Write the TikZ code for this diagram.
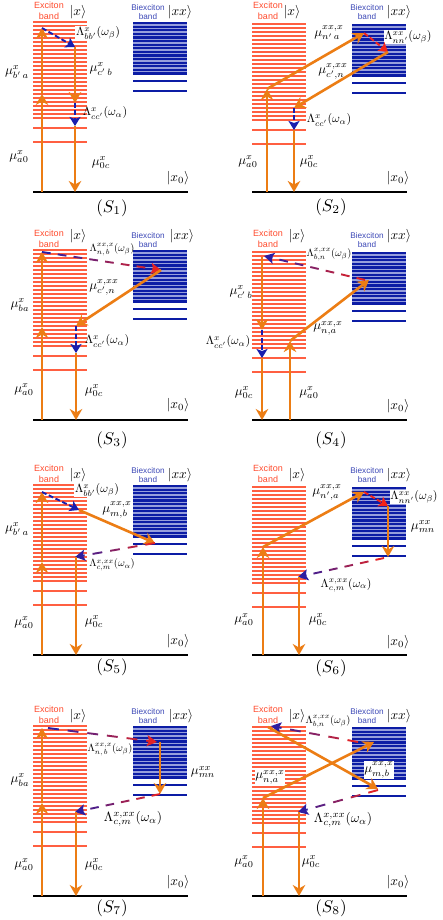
\documentclass[tikz,border=0pt]{standalone}
\usepackage{fontspec}
\newfontfamily\labfont{Liberation Sans}
\usetikzlibrary{arrows.meta,calc}
\definecolor{exred}{RGB}{255,95,65}
\definecolor{exhd}{RGB}{255,75,45}
\definecolor{bxblue}{RGB}{12,28,165}
\definecolor{bxpale}{RGB}{150,158,220}
\definecolor{dblue}{RGB}{25,30,175}
\definecolor{dred}{RGB}{245,35,25}
\definecolor{arrorange}{RGB}{236,125,20}
\tikzset{
  groundline/.style={draw=black,line width=1.8pt},
  trans/.style={draw=arrorange,line width=2.6pt,-{Stealth[length=11pt,width=12.5pt,inset=3.5pt]}},
  blued/.style={draw=dblue,line width=1.9pt,dash pattern=on 5pt off 2.5pt,-{Stealth[length=9pt,width=11pt,inset=2pt]}},
  redd/.style={draw=dred,line width=1.9pt,dash pattern=on 5pt off 2.5pt,-{Stealth[length=9pt,width=11pt,inset=2pt]}},
  exhead/.style={text=exhd,font=\labfont\fontsize{9}{10}\selectfont,inner sep=0pt},
  bxhead/.style={text=bxblue!80!white,font=\labfont\fontsize{8.2}{9}\selectfont,inner sep=0pt},
  ket/.style={scale=1.35,inner sep=0pt},
  caption/.style={scale=1.7,inner sep=0pt},
  mulab/.style={scale=1.3,inner sep=0.5pt},
  lamlab/.style={scale=1.2,inner sep=0.5pt},
  lamx/.style={scale=1.05,inner sep=0.5pt},
  biglam/.style={scale=1.35,inner sep=0.5pt},
  wfill/.style={fill=white},
}
% panel: prefix, dx, top, base, head offset
\newcommand{\panel}[5]{%
  \foreach \k in {0,...,24}{\fill[exred] ({33+#2},{#3+\k*4-0.55}) rectangle ({87+#2},{#3+\k*4+0.55});}
  \fill[exred] ({33+#2},{#3+105.45}) rectangle ({87+#2},{#3+106.55});
  \fill[exred] ({33+#2},{#3+119.45}) rectangle ({87+#2},{#3+120.55});
  \fill[bxpale] ({133+#2},{#3}) rectangle ({187+#2},{#3+52.5});
  \foreach \k in {0,...,14}{\fill[bxblue] ({133+#2},{#3+\k*3.6}) rectangle ({187+#2},{#3+\k*3.6+2.2});}
  \fill[bxblue] ({133+#2},{#3+58}) rectangle ({187+#2},{#3+60});
  \fill[bxblue] ({133+#2},{#3+68}) rectangle ({187+#2},{#3+70});
  \coordinate (#1bl) at ({33+#2},#4);
  \coordinate (#1br) at ({187.5+#2},#4);
  \draw[groundline] (#1bl) -- (#1br);
  \node[exhead] (#1exa) at ({49+#2},{#5+5}) {Exciton};
  \node[exhead] (#1exb) at ({49+#2},{#5+16}) {band};
  \node[bxhead] (#1bxa) at ({148+#2},{#5+7.5}) {Biexciton};
  \node[bxhead] (#1bxb) at ({148+#2},{#5+17}) {band};
}
% gradient dashed connector: a, b, dashes, start colour, end colour
\newcommand{\gradash}[5]{%
  \foreach \i in {1,...,#3}{%
    \pgfmathsetmacro\ta{(\i-1)/(#3-0.45)}%
    \pgfmathsetmacro\tb{(\i-0.45)/(#3-0.45)}%
    \pgfmathtruncatemacro\pc{100*(\i-0.5)/#3}%
    \ifnum\i=#3\relax
      \draw[color={#5!\pc!#4},line width=1.9pt,-{Stealth[length=10pt,width=11pt,inset=2pt]}] ($(#1)!\ta!(#2)$) -- (#2);
    \else
      \draw[color={#5!\pc!#4},line width=1.9pt] ($(#1)!\ta!(#2)$) -- ($(#1)!\tb!(#2)$);
    \fi
  }%
}
\begin{document}
\begin{tikzpicture}[x=1pt,y=-1pt]
\useasboundingbox (0,0) rectangle (442,920);
\fill[white] (0,0) rectangle (442,920);

% ---------------- S1
\panel{a}{0}{22}{192}{0}
\node[ket] (aket1) at (78,12) {$|x\rangle$};
\node[ket] (aket2) at (180,12) {$|xx\rangle$};
\node[ket] (aket0) at (178,178) {$|x_0\rangle$};
\node[caption] (acap) at (112,208) {$(S_1)$};
\node[lamlab,wfill] (alb) at (98,33) {$\Lambda^{x}_{bb'}(\omega_\beta)$};
\node[lamlab] (alc) at (105,113) {$\Lambda^{x}_{cc'}(\omega_\alpha)$};
\node[mulab] (am1) at (17,72) {$\mu^{x}_{b'\,a}$};
\node[mulab] (am2) at (101,69) {$\mu^{x}_{c'\,b}$};
\node[mulab] (am3) at (19,157) {$\mu^{x}_{a0}$};
\node[mulab] (am4) at (101,163) {$\mu^{x}_{0c}$};
\coordinate (a0) at (42,192); \coordinate (a1) at (42,94); \coordinate (a2) at (42,28);
\coordinate (a3) at (75,47); \coordinate (a4) at (75,103); \coordinate (a5) at (75,126); \coordinate (a6) at (75,192);
\draw[trans] (a0) -- (a1); \draw[trans] (a1) -- (a2);
\draw[blued] (a2) -- (a3);
\draw[trans] (a3) -- (a4);
\draw[blued] (a4) -- (a5);
\draw[trans] (a5) -- (a6);

% ---------------- S2
\panel{b}{219}{24}{192}{0}
\node[ket] (bket1) at (292,12) {$|x\rangle$};
\node[ket] (bket2) at (399,12) {$|xx\rangle$};
\node[ket] (bket0) at (398,178) {$|x_0\rangle$};
\node[caption] (bcap) at (331,207) {$(S_2)$};
\node[lamlab,wfill] (blb) at (408,37) {$\Lambda^{xx}_{nn'}(\omega_\beta)$};
\node[lamlab] (blc) at (329,120) {$\Lambda^{x}_{cc'}(\omega_\alpha)$};
\node[mulab] (bm1) at (329,33) {$\mu^{xx,x}_{n'\,a}$};
\node[mulab] (bm2) at (333,71) {$\mu^{x,xx}_{c',n}$};
\node[mulab] (bm3) at (248,162) {$\mu^{x}_{a0}$};
\node[mulab] (bm4) at (309,162) {$\mu^{x}_{0c}$};
\coordinate (b0) at (267,192); \coordinate (b1) at (267,89); \coordinate (b2) at (364,33);
\coordinate (b3) at (388,52); \coordinate (b4) at (294,108); \coordinate (b5) at (294,130); \coordinate (b6) at (294,192);
\draw[trans] (b0) -- (b1); \draw[trans] (b1) -- (b2);
\draw[redd] (b2) -- (b3);
\draw[trans] (b3) -- (b4);
\draw[blued] (b4) -- (b5);
\draw[trans] (b5) -- (b6);

% ---------------- S3
\panel{c}{0}{250}{420}{228}
\node[ket] (cket1) at (78,236) {$|x\rangle$};
\node[ket] (cket2) at (182,236) {$|xx\rangle$};
\node[ket] (cket0) at (178,405) {$|x_0\rangle$};
\node[caption] (ccap) at (112,440) {$(S_3)$};
\node[lamx] (clb) at (112,250) {$\Lambda^{xx,x}_{n,\,b}(\omega_\beta)$};
\node[lamlab] (clc) at (107,341) {$\Lambda^{x}_{cc'}(\omega_\alpha)$};
\node[mulab] (cm1) at (20,305) {$\mu^{x}_{ba}$};
\node[mulab] (cm2) at (104,287) {$\mu^{x,xx}_{c',n}$};
\node[mulab] (cm3) at (24,390) {$\mu^{x}_{a0}$};
\node[mulab] (cm4) at (94,391) {$\mu^{x}_{0c}$};
\coordinate (c0) at (42,420); \coordinate (c1) at (42,327); \coordinate (c2) at (42,252);
\coordinate (c3) at (161,270); \coordinate (c4) at (76,326); \coordinate (c5) at (76,353); \coordinate (c6) at (76,420);
\draw[trans] (c0) -- (c1); \draw[trans] (c1) -- (c2);
\gradash{c2}{c3}{8}{dblue}{dred}
\draw[trans] (c3) -- (c4);
\draw[blued] (c4) -- (c5);
\draw[trans] (c5) -- (c6);

% ---------------- S4
\panel{d}{219}{252}{420}{228}
\node[ket] (dket1) at (297,236) {$|x\rangle$};
\node[ket] (dket2) at (399,236) {$|xx\rangle$};
\node[ket] (dket0) at (398,406) {$|x_0\rangle$};
\node[caption] (dcap) at (331,440) {$(S_4)$};
\node[lamx] (dlb) at (329,255) {$\Lambda^{x,xx}_{b,n}(\omega_\beta)$};
\node[lamlab] (dlc) at (228,342) {$\Lambda^{x}_{cc'}(\omega_\alpha)$};
\node[mulab] (dm1) at (241,292) {$\mu^{x}_{c'\,b}$};
\node[mulab] (dm2) at (328,328) {$\mu^{xx,x}_{n,a}$};
\node[mulab] (dm3) at (244,393) {$\mu^{x}_{0c}$};
\node[mulab] (dm4) at (309,393) {$\mu^{x}_{a0}$};
\coordinate (d0) at (290,420); \coordinate (d1) at (290,341); \coordinate (d2) at (369,280);
\coordinate (d3) at (365,280); \coordinate (d4) at (264,256);
\coordinate (d5) at (262,257); \coordinate (d6) at (262,330); \coordinate (d7) at (262,358); \coordinate (d8) at (262,420);
\draw[trans] (d0) -- (d1); \draw[trans] (d1) -- (d2);
\gradash{d3}{d4}{7}{dred}{dblue}
\draw[trans] (d5) -- (d6);
\draw[blued] (d6) -- (d7);
\draw[trans] (d7) -- (d8);

% ---------------- S5
\panel{e}{0}{485}{655}{463}
\node[ket] (eket1) at (78,475) {$|x\rangle$};
\node[ket] (eket2) at (180,475) {$|xx\rangle$};
\node[ket] (eket0) at (178,641) {$|x_0\rangle$};
\node[caption] (ecap) at (112,667) {$(S_5)$};
\node[lamlab,wfill] (elb) at (97,490) {$\Lambda^{x}_{bb'}(\omega_\beta)$};
\node[lamx] (elc) at (112,565) {$\Lambda^{x,xx}_{c,m}(\omega_\alpha)$};
\node[mulab] (em1) at (17,529) {$\mu^{x}_{b'\,a}$};
\node[mulab] (em2) at (117,510) {$\mu^{xx,x}_{m,b}$};
\node[mulab] (em3) at (24,623) {$\mu^{x}_{a0}$};
\node[mulab] (em4) at (94,622) {$\mu^{x}_{0c}$};
\coordinate (e0) at (42,655); \coordinate (e1) at (42,562); \coordinate (e2) at (42,492);
\coordinate (e3) at (79,510); \coordinate (e4) at (155,543); \coordinate (e5) at (75,557);
\coordinate (e6) at (76,557); \coordinate (e7) at (76,655);
\draw[trans] (e0) -- (e1); \draw[trans] (e1) -- (e2);
\draw[blued] (e2) -- (e3);
\draw[trans] (e3) -- (e4);
\gradash{e4}{e5}{5}{dred}{dblue}
\draw[trans] (e6) -- (e7);

% ---------------- S6
\panel{f}{219}{487}{655}{463}
\node[ket] (fket1) at (297,475) {$|x\rangle$};
\node[ket] (fket2) at (399,475) {$|xx\rangle$};
\node[ket] (fket0) at (398,642) {$|x_0\rangle$};
\node[caption] (fcap) at (331,668) {$(S_6)$};
\node[lamlab,wfill] (flb) at (414,497) {$\Lambda^{xx}_{nn'}(\omega_\beta)$};
\node[lamx,scale=1.12] (flc) at (346,585) {$\Lambda^{x,xx}_{c,m}(\omega_\alpha)$};
\node[mulab] (fm1) at (327,492) {$\mu^{xx,x}_{n',a}$};
\node[mulab] (fm2) at (423,527) {$\mu^{xx}_{mn}$};
\node[mulab] (fm3) at (244,620) {$\mu^{x}_{a0}$};
\node[mulab] (fm4) at (318,620) {$\mu^{x}_{0c}$};
\coordinate (f0) at (263,655); \coordinate (f1) at (263,547); \coordinate (f2) at (364,492);
\coordinate (f3) at (388,506); \coordinate (f4) at (388,557); \coordinate (f5) at (384,558);
\coordinate (f6) at (298,577); \coordinate (f7) at (299,577); \coordinate (f8) at (299,655);
\draw[trans] (f0) -- (f1); \draw[trans] (f1) -- (f2);
\draw[redd] (f2) -- (f3);
\draw[trans] (f3) -- (f4);
\gradash{f5}{f6}{6}{dred}{dblue}
\draw[trans] (f7) -- (f8);

% ---------------- S7
\panel{g}{0}{726}{896}{704}
\node[ket] (gket1) at (78,716) {$|x\rangle$};
\node[ket] (gket2) at (181,716) {$|xx\rangle$};
\node[ket] (gket0) at (178,882) {$|x_0\rangle$};
\node[caption] (gcap) at (112,908) {$(S_7)$};
\node[lamx] (glb) at (110,750) {$\Lambda^{xx,x}_{n,\,b}(\omega_\beta)$};
\node[biglam] (glc) at (133,819) {$\Lambda^{x,xx}_{c,m}(\omega_\alpha)$};
\node[mulab] (gm1) at (20,780) {$\mu^{x}_{ba}$};
\node[mulab] (gm2) at (203,772) {$\mu^{xx}_{mn}$};
\node[mulab] (gm3) at (24,865) {$\mu^{x}_{a0}$};
\node[mulab] (gm4) at (94,865) {$\mu^{x}_{0c}$};
\coordinate (g0) at (42,896); \coordinate (g1) at (42,803); \coordinate (g2) at (42,728);
\coordinate (g3) at (48,728); \coordinate (g4) at (157,742); \coordinate (g5) at (160,742);
\coordinate (g6) at (160,794); \coordinate (g7) at (75,812); \coordinate (g8) at (76,812); \coordinate (g9) at (76,896);
\draw[trans] (g0) -- (g1); \draw[trans] (g1) -- (g2);
\gradash{g3}{g4}{6}{dblue}{dred}
\draw[trans] (g5) -- (g6);
\gradash{g6}{g7}{6}{dred}{dblue}
\draw[trans] (g8) -- (g9);

% ---------------- S8
\panel{h}{219}{727}{896}{704}
\node[ket] (hket1) at (297,716) {$|x\rangle$};
\node[ket] (hket2) at (399,716) {$|xx\rangle$};
\node[ket] (hket0) at (398,882) {$|x_0\rangle$};
\node[caption] (hcap) at (331,908) {$(S_8)$};
\node[lamx] (hlb) at (328,722) {$\Lambda^{x,xx}_{b,n}(\omega_\beta)$};
\node[biglam] (hlc) at (343,820) {$\Lambda^{x,xx}_{c,m}(\omega_\alpha)$};
\node[mulab,wfill] (hm1) at (379,770) {$\mu^{xx,x}_{m,b}$};
\node[mulab,wfill] (hm2) at (270,777) {$\mu^{xx,x}_{n,a}$};
\node[mulab] (hm3) at (244,862) {$\mu^{x}_{a0}$};
\node[mulab] (hm4) at (311,862) {$\mu^{x}_{0c}$};
\coordinate (h0) at (263,896); \coordinate (h1) at (263,798); \coordinate (h2) at (374,742);
\coordinate (h3) at (358,742); \coordinate (h4) at (271,726); \coordinate (h5) at (268,727);
\coordinate (h6) at (378,789); \coordinate (h7) at (298,812); \coordinate (h8) at (299,812); \coordinate (h9) at (299,896);
\coordinate (h10) at (378,790);
\draw[trans] (h0) -- (h1); \draw[trans] (h1) -- (h2);
\gradash{h3}{h4}{5}{dred}{dblue}
\draw[trans] (h5) -- (h6);
\gradash{h10}{h7}{5}{dred}{dblue}
\draw[trans] (h8) -- (h9);
\end{tikzpicture}
\end{document}
